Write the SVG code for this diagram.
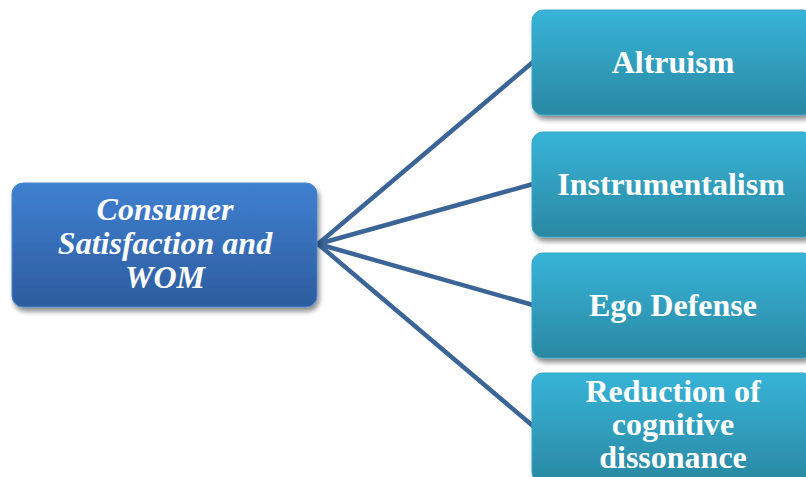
<svg xmlns="http://www.w3.org/2000/svg" width="806" height="477" viewBox="0 0 806 477">
  <defs>
    <linearGradient id="gHub" x1="0" y1="0" x2="0" y2="1">
      <stop offset="0" stop-color="#3f80d0"/>
      <stop offset="1" stop-color="#2d5c9e"/>
    </linearGradient>
    <linearGradient id="gLeaf" x1="0" y1="0" x2="0" y2="1">
      <stop offset="0" stop-color="#37b4d8"/>
      <stop offset="1" stop-color="#2a88a2"/>
    </linearGradient>
    <filter id="shadow" x="-10%" y="-10%" width="125%" height="130%">
      <feGaussianBlur in="SourceAlpha" stdDeviation="2.5"/>
      <feOffset dx="2" dy="4" result="b"/>
      <feComponentTransfer><feFuncA type="linear" slope="0.45"/></feComponentTransfer>
      <feMerge><feMergeNode/><feMergeNode in="SourceGraphic"/></feMerge>
    </filter>
  </defs>
  <style>
    .hub { fill: url(#gHub); stroke: #4a86cc; stroke-width: 1; filter: url(#shadow); }
    .leaf { fill: url(#gLeaf); stroke: #3aa6c8; stroke-width: 1; filter: url(#shadow); }
    .link { stroke: #3b6497; stroke-width: 4.5; fill: none; stroke-linecap: round; }
    .t { font-family: "Liberation Serif", "Times New Roman", serif; font-weight: bold; font-size: 32px; fill: #ffffff; text-anchor: middle; }
    .it { font-style: italic; }
  </style>
  <rect width="806" height="477" fill="#ffffff"/>

  <g id="connectors">
    <line class="link" x1="318" y1="244" x2="533" y2="62"/>
    <line class="link" x1="318" y1="244" x2="533" y2="184"/>
    <line class="link" x1="318" y1="244" x2="533" y2="305"/>
    <line class="link" x1="318" y1="244" x2="533" y2="426"/>
  </g>

  <g id="consumer-satisfaction">
    <rect class="hub" x="12" y="183" width="305" height="124" rx="11"/>
    <text class="t it" x="165" y="220">Consumer</text>
    <text class="t it" x="165" y="254">Satisfaction and</text>
    <text class="t it" x="165" y="288">WOM</text>
  </g>

  <g id="altruism">
    <rect class="leaf" x="532" y="10" width="282" height="105" rx="11"/>
    <text class="t" x="673" y="73">Altruism</text>
  </g>

  <g id="instrumentalism">
    <rect class="leaf" x="532" y="132" width="282" height="105" rx="11"/>
    <text class="t" x="671" y="195">Instrumentalism</text>
  </g>

  <g id="ego-defense">
    <rect class="leaf" x="532" y="253" width="282" height="105" rx="11"/>
    <text class="t" x="673" y="316">Ego Defense</text>
  </g>

  <g id="cognitive-dissonance">
    <rect class="leaf" x="532" y="373" width="282" height="110" rx="11"/>
    <text class="t" x="673" y="402">Reduction of</text>
    <text class="t" x="673" y="435">cognitive</text>
    <text class="t" x="673" y="468">dissonance</text>
  </g>
</svg>
